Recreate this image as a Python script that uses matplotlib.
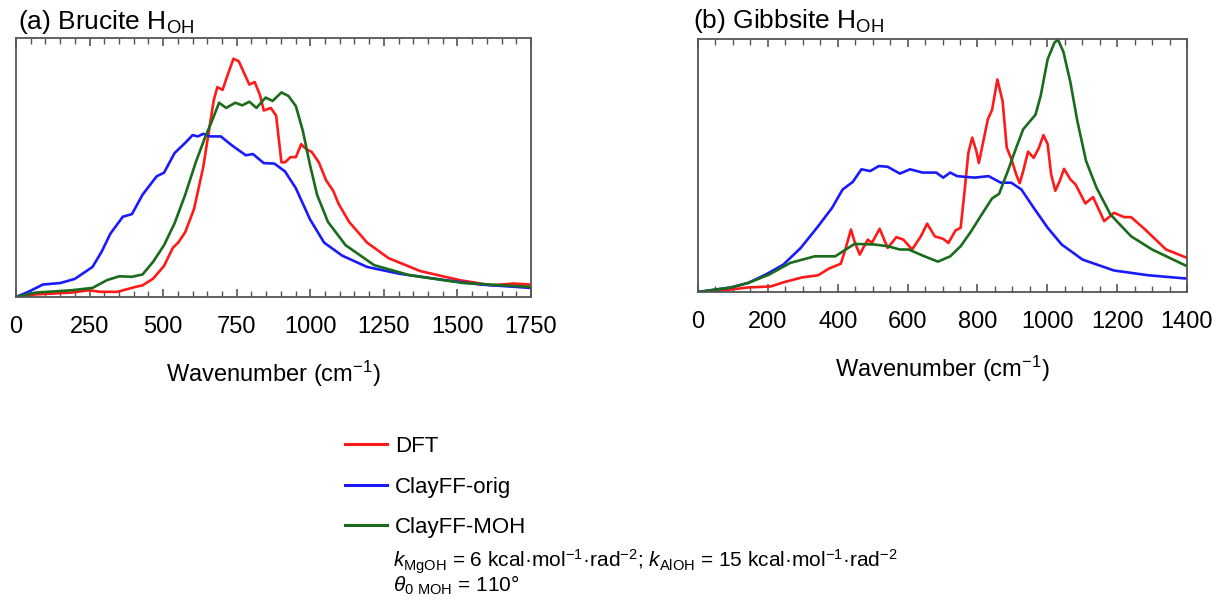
import matplotlib
matplotlib.use("Agg")
import matplotlib.pyplot as plt
from matplotlib.lines import Line2D
from matplotlib.ticker import MultipleLocator

plt.rcParams['font.family'] = ['Liberation Sans', 'DejaVu Sans']
plt.rcParams['mathtext.fontset'] = 'custom'
plt.rcParams['mathtext.rm'] = 'Liberation Sans'
plt.rcParams['mathtext.it'] = 'Liberation Sans:italic'

# (a) Brucite H_OH
bru_dft_x = [0, 67, 188, 248, 285, 345, 406, 430, 466, 503, 533, 551, 575, 605, 636, 654, 672, 684,
             702, 720, 739, 757, 781, 793, 811, 829, 842, 866, 884, 902, 914, 933, 951, 969, 987,
             1005, 1029, 1054, 1078, 1096, 1132, 1193, 1266, 1374, 1508, 1617, 1690, 1750]
bru_dft_y = [0, 0.01, 0.017, 0.026, 0.02, 0.02, 0.039, 0.045, 0.071, 0.12, 0.19, 0.21, 0.25, 0.34,
             0.50, 0.63, 0.76, 0.81, 0.80, 0.86, 0.92, 0.91, 0.85, 0.82, 0.83, 0.78, 0.72, 0.73,
             0.70, 0.52, 0.52, 0.54, 0.54, 0.59, 0.57, 0.56, 0.52, 0.45, 0.41, 0.36, 0.29, 0.21,
             0.15, 0.10, 0.065, 0.045, 0.052, 0.048]
bru_orig_x = [0, 42, 91, 151, 200, 260, 291, 321, 363, 394, 430, 478, 503, 539, 575, 600, 618, 636,
              660, 696, 733, 781, 805, 842, 878, 914, 951, 999, 1047, 1108, 1193, 1302, 1459, 1580, 1750]
bru_orig_y = [0, 0.02, 0.048, 0.054, 0.07, 0.116, 0.175, 0.245, 0.31, 0.32, 0.395, 0.466, 0.48,
              0.556, 0.595, 0.625, 0.62, 0.63, 0.62, 0.62, 0.586, 0.547, 0.552, 0.517, 0.515,
              0.485, 0.42, 0.30, 0.21, 0.16, 0.116, 0.09, 0.065, 0.048, 0.035]
bru_moh_x = [0, 67, 188, 260, 309, 351, 394, 430, 466, 503, 539, 575, 612, 642, 666, 690, 714, 745,
             769, 793, 817, 848, 872, 902, 926, 951, 975, 999, 1023, 1060, 1120, 1217, 1338, 1520, 1750]
bru_moh_y = [0, 0.017, 0.026, 0.035, 0.065, 0.08, 0.078, 0.087, 0.136, 0.20, 0.285, 0.395, 0.524,
             0.615, 0.68, 0.75, 0.73, 0.75, 0.74, 0.754, 0.73, 0.77, 0.757, 0.79, 0.776, 0.737,
             0.64, 0.51, 0.395, 0.29, 0.20, 0.123, 0.084, 0.054, 0.039]

# (b) Gibbsite H_OH
gib_dft_x = [0, 95, 144, 209, 244, 299, 344, 374, 409, 423, 438, 448, 463, 473, 486, 498, 520, 543,
             568, 588, 613, 638, 656, 678, 702, 717, 737, 752, 764, 774, 785, 797, 804, 817, 830,
             842, 857, 872, 884, 896, 911, 921, 931, 945, 961, 976, 989, 1001, 1011, 1023, 1036,
             1048, 1066, 1081, 1109, 1131, 1163, 1191, 1220, 1240, 1280, 1340, 1400]
gib_dft_y = [0, 0.01, 0.018, 0.022, 0.038, 0.058, 0.066, 0.092, 0.112, 0.174, 0.247, 0.20, 0.148,
             0.174, 0.207, 0.194, 0.25, 0.174, 0.217, 0.207, 0.168, 0.22, 0.27, 0.22, 0.21, 0.194,
             0.243, 0.254, 0.41, 0.55, 0.61, 0.557, 0.51, 0.597, 0.683, 0.72, 0.84, 0.755, 0.57,
             0.53, 0.465, 0.43, 0.478, 0.555, 0.53, 0.57, 0.62, 0.585, 0.465, 0.40, 0.44, 0.487,
             0.445, 0.425, 0.35, 0.375, 0.28, 0.313, 0.296, 0.296, 0.247, 0.168, 0.135]
gib_orig_x = [0, 95, 144, 194, 244, 294, 344, 384, 414, 443, 468, 493, 518, 543, 578, 607, 643, 682,
              702, 722, 742, 792, 832, 867, 897, 926, 961, 1001, 1041, 1101, 1191, 1290, 1400]
gib_orig_y = [0, 0.018, 0.036, 0.069, 0.108, 0.174, 0.26, 0.333, 0.405, 0.435, 0.485, 0.478, 0.498,
              0.495, 0.468, 0.485, 0.472, 0.472, 0.452, 0.472, 0.458, 0.452, 0.458, 0.432, 0.432,
              0.405, 0.333, 0.254, 0.188, 0.128, 0.085, 0.066, 0.053]
gib_moh_x = [0, 95, 144, 204, 264, 334, 393, 423, 448, 503, 543, 578, 603, 643, 687, 722, 752, 782,
             812, 842, 862, 887, 911, 931, 951, 966, 981, 1001, 1021, 1031, 1046, 1066, 1086, 1111,
             1141, 1181, 1240, 1300, 1400]
gib_moh_y = [0, 0.018, 0.036, 0.069, 0.115, 0.141, 0.141, 0.168, 0.19, 0.188, 0.181, 0.168, 0.168,
             0.144, 0.12, 0.141, 0.181, 0.24, 0.306, 0.37, 0.388, 0.478, 0.57, 0.643, 0.676, 0.70,
             0.775, 0.92, 0.987, 0.996, 0.95, 0.83, 0.676, 0.518, 0.412, 0.306, 0.22, 0.168, 0.102]

red, blue, green = '#ff1a1a', '#1a1aff', '#1a6b1a'
lw = 1.9

fig = plt.figure(figsize=(12.24, 6.1), dpi=100)
W, H = 1224, 610
ax1 = fig.add_axes([16 / W, 1 - 297 / H, 515 / W, 259 / H])
ax2 = fig.add_axes([698 / W, 1 - 292 / H, 489 / W, 253 / H])

ax1.plot(bru_dft_x, bru_dft_y, color=red, lw=lw)
ax1.plot(bru_orig_x, bru_orig_y, color=blue, lw=lw)
ax1.plot(bru_moh_x, bru_moh_y, color=green, lw=lw)
ax2.plot(gib_dft_x, gib_dft_y, color=red, lw=lw)
ax2.plot(gib_orig_x, gib_orig_y, color=blue, lw=lw)
ax2.plot(gib_moh_x, gib_moh_y, color=green, lw=lw)

for ax, xmax, major in [(ax1, 1750, 250), (ax2, 1400, 200)]:
    ax.set_xlim(0, xmax)
    ax.set_ylim(0, 1.0)
    ax.xaxis.set_major_locator(MultipleLocator(major))
    ax.xaxis.set_minor_locator(MultipleLocator(50))
    ax.tick_params(axis='x', which='both', direction='in', top=True, bottom=True,
                   colors='#555555', labelcolor='black', labelsize=17, pad=14)
    ax.tick_params(axis='x', which='major', length=6, width=1.2)
    ax.tick_params(axis='x', which='minor', length=4, width=1.0)
    ax.tick_params(axis='y', left=False, labelleft=False)
    for s in ax.spines.values():
        s.set_color('#555555')
        s.set_linewidth(1.3)
    ax.set_xlabel('Wavenumber (cm$^{-1}$)', fontsize=17, labelpad=15)

fig.text(18 / W, 1 - 29 / H, '(a) Brucite H$_{\\mathrm{OH}}$', fontsize=19, va='baseline')
fig.text(693 / W, 1 - 28 / H, '(b) Gibbsite H$_{\\mathrm{OH}}$', fontsize=19, va='baseline')

handles = [Line2D([], [], color=red, lw=2.2), Line2D([], [], color=blue, lw=2.2),
           Line2D([], [], color=green, lw=2.2)]
labels = ['DFT', 'ClayFF-orig', 'ClayFF-MOH']
fig.legend(handles, labels, loc='upper left', bbox_to_anchor=(325 / W, 1 - 416 / H),
           frameon=False, fontsize=16, handlelength=1.9, handletextpad=0.35, labelspacing=0.88)

fig.text(393 / W, 1 - 567 / H,
         '$\\mathit{k}_{\\mathrm{MgOH}}$ = 6 kcal·mol$^{\\mathrm{-1}}$·rad$^{\\mathrm{-2}}$; '
         '$\\mathit{k}_{\\mathrm{AlOH}}$ = 15 kcal·mol$^{\\mathrm{-1}}$·rad$^{\\mathrm{-2}}$',
         fontsize=15, va='baseline')
fig.text(393 / W, 1 - 592 / H, '$\\mathit{\\theta_{0}}_{\\ \\mathrm{MOH}}$ = 110°',
         fontsize=15, va='baseline')

fig.savefig('out.png', dpi=100)
